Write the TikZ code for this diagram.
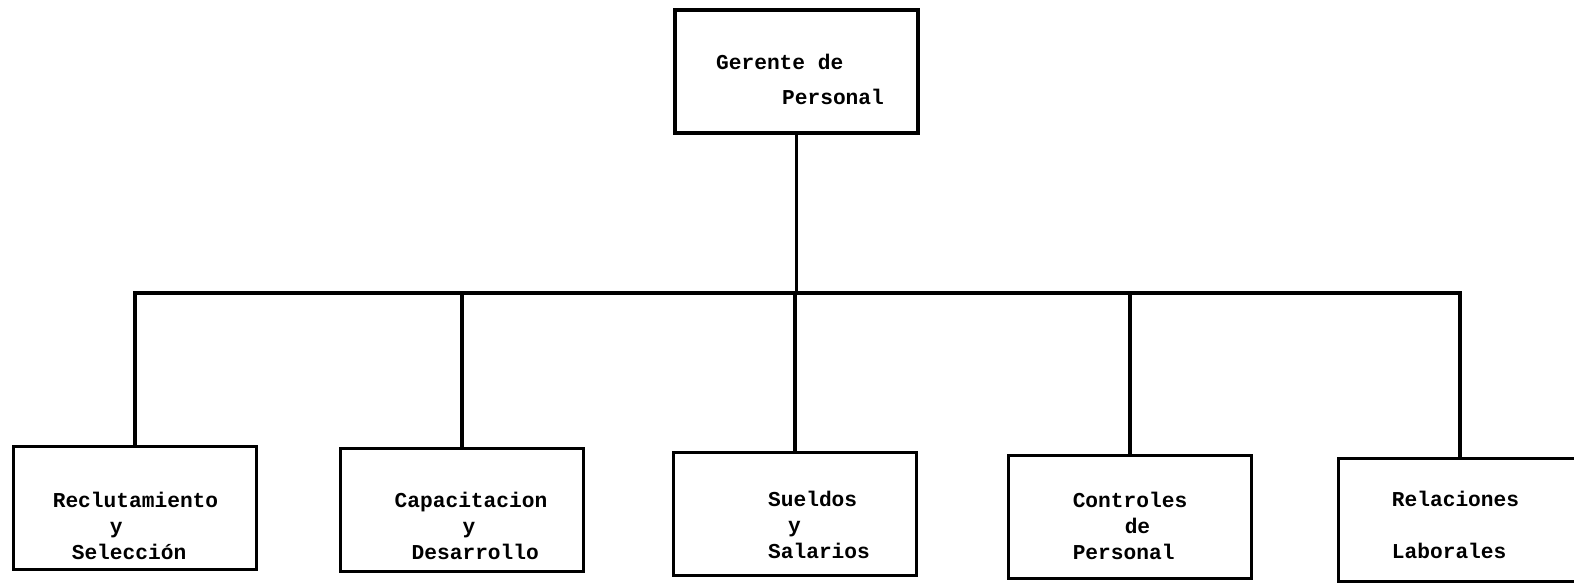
\documentclass[tikz,border=0pt]{standalone}
\usepackage{fontspec}
\setmonofont{Liberation Mono}
\usetikzlibrary{positioning}

\begin{document}
\begin{tikzpicture}[x=0.5pt, y=-0.5pt,
  puesto/.style={draw, line width=1.9pt, minimum width=121.5pt, minimum height=61.5pt, inner sep=0pt},
  rotulo/.style={font=\ttfamily\bfseries\fontsize{10.6}{13}\selectfont, inner sep=0pt, align=left},
  linea/.style={line width=1.9pt}]
\useasboundingbox (0,0) rectangle (1574,587);
% jefatura
\node[puesto] (G) at (796.5,71.5) {};
\node[rotulo] (Gt) at (800,79.5) {Gerente de\\[4.5pt]\hspace*{33pt}Personal};
% departamentos
\node[puesto] (RS) at (135,508) {};
\node[puesto] (CD) at (462,510) {};
\node[puesto] (SS) at (795,514) {};
\node[puesto] (CP) at (1130,517) {};
\node[puesto] (RL) at (1460,520) {};
\node[rotulo] (RSt) at (135.5,526) {Reclutamiento\\\hspace*{28.5pt}y\\\hspace*{9.5pt}Selección};
\node[rotulo] (CDt) at (471,526) {Capacitacion\\\hspace*{34pt}y\\\hspace*{8.5pt}Desarrollo};
\node[rotulo] (SSt) at (819,525) {Sueldos\\\hspace*{10pt}y\\Salarios};
\node[rotulo] (CPt) at (1130,526) {Controles\\\hspace*{26pt}de\\Personal};
\node[rotulo] (RLt) at (1455.5,525) {Relaciones\\[13pt]Laborales};
% lineas
\coordinate (busL) at (135,293);
\coordinate (busR) at (1460,293);
\draw[linea] (G.south) -- (G.south |- busL);
\draw[linea] (RS.north) -- (busL) -- (busR) -- (RL.north);
\foreach \n in {CD,SS,CP}
  \draw[linea] (\n.north) -- (\n.north |- busL);
\end{tikzpicture}
\end{document}
